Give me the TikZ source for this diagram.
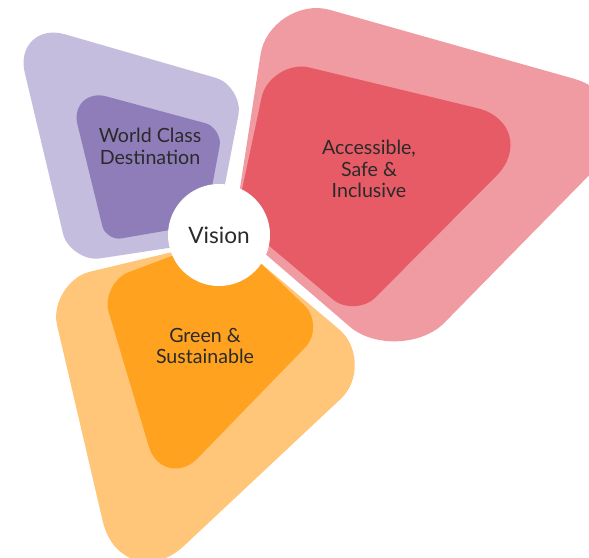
\documentclass[tikz,border=0pt]{standalone}
\usepackage{fontspec}
\setmainfont{Lato}
\usepackage{tikz}
\usetikzlibrary{calc}

\definecolor{worldout}{HTML}{C5BDDD}
\definecolor{worldin}{HTML}{8F7DBA}
\definecolor{safeout}{HTML}{F09BA1}
\definecolor{safein}{HTML}{E65B65}
\definecolor{greenout}{HTML}{FFC679}
\definecolor{greenin}{HTML}{FFA21F}
\definecolor{textgrey}{HTML}{2A2A2A}

\tikzset{
    petal text/.style={text=textgrey, align=center, font=\fontsize{9.8}{10.9}\selectfont},
    hub/.style={circle, fill=white, inner sep=0pt, minimum size=51pt, text=textgrey, font=\fontsize{11.3}{12}\selectfont}
}

% rounded four-corner petal: colour, corners, cut at each corner (px)
\newcommand{\petal}[9]{%
    \fill[#1] ($(#2)!#6*0.5pt!(#5)$)
        .. controls ($(#2)!#6*0.25pt!(#5)$) and ($(#2)!#6*0.25pt!(#3)$) .. ($(#2)!#6*0.5pt!(#3)$)
        -- ($(#3)!#7*0.5pt!(#2)$)
        .. controls ($(#3)!#7*0.25pt!(#2)$) and ($(#3)!#7*0.25pt!(#4)$) .. ($(#3)!#7*0.5pt!(#4)$)
        -- ($(#4)!#8*0.5pt!(#3)$)
        .. controls ($(#4)!#8*0.25pt!(#3)$) and ($(#4)!#8*0.25pt!(#5)$) .. ($(#4)!#8*0.5pt!(#5)$)
        -- ($(#5)!#9*0.5pt!(#4)$)
        .. controls ($(#5)!#9*0.25pt!(#4)$) and ($(#5)!#9*0.25pt!(#2)$) .. ($(#5)!#9*0.5pt!(#2)$)
        -- cycle;}

\begin{document}
\begin{tikzpicture}[x=0.5pt,y=-0.5pt]
    \useasboundingbox (0,0) rectangle (589,557);
    \clip (0,0) rectangle (589,557);

    % corners of the petals
    \coordinate (wo1) at (12,19);   \coordinate (wo2) at (244,86);
    \coordinate (wo3) at (214,241); \coordinate (wo4) at (70,263);
    \coordinate (wi1) at (68,86);   \coordinate (wi2) at (223,128);
    \coordinate (wi3) at (205,224); \coordinate (wi4) at (106,241);
    \coordinate (ao1) at (270,-7);  \coordinate (ao2) at (660,103);
    \coordinate (ao3) at (399,369); \coordinate (ao4) at (234,227);
    \coordinate (ai1) at (270,58);  \coordinate (ai2) at (547,125);
    \coordinate (ai3) at (355,318); \coordinate (ai4) at (236,218);
    \coordinate (go1) at (47,282);  \coordinate (go2) at (231,238);
    \coordinate (go3) at (379,363); \coordinate (go4) at (122,604);
    \coordinate (gi1) at (100,283); \coordinate (gi2) at (230,234);
    \coordinate (gi3) at (326,326); \coordinate (gi4) at (163,494);

    \petal{worldout}{wo1}{wo2}{wo3}{wo4}{55}{29}{20}{30}
    \petal{worldin}{wi1}{wi2}{wi3}{wi4}{40}{18}{15}{15}
    \petal{safeout}{ao1}{ao2}{ao3}{ao4}{62}{90}{65}{20}
    \petal{safein}{ai1}{ai2}{ai3}{ai4}{40}{72}{28}{15}
    \petal{greenout}{go1}{go2}{go3}{go4}{44}{15}{52}{85}
    \petal{greenin}{gi1}{gi2}{gi3}{gi4}{30}{15}{29}{50}

    \node[petal text] (world) at (150,146) {World Class\\Destination};
    \node[petal text] (safe) at (369,169) {Accessible,\\Safe \&\\Inclusive};
    \node[petal text] (green) at (205,346) {Green \&\\Sustainable};
    \node[hub] (vision) at (219,235) {Vision};
\end{tikzpicture}
\end{document}
